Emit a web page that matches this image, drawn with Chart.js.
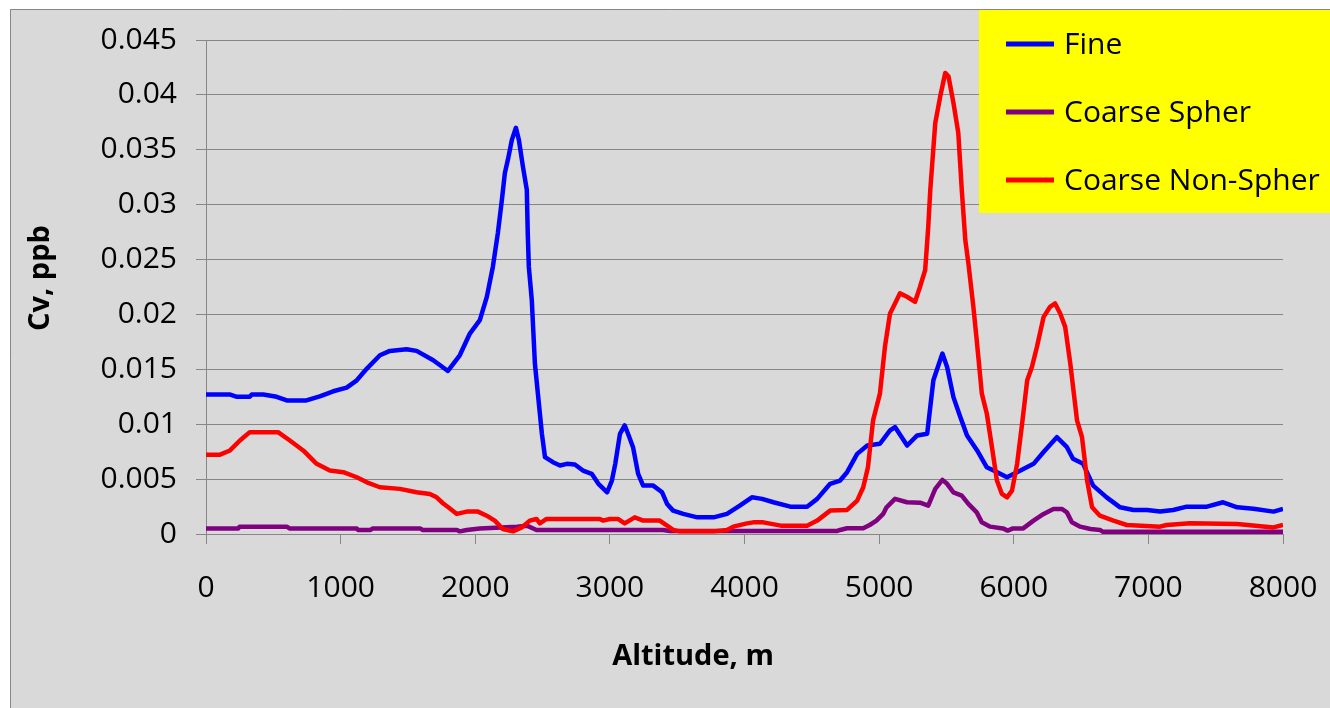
<!DOCTYPE html>
<html>
<head>
<meta charset="utf-8">
<script src="https://cdn.jsdelivr.net/npm/chart.js@4.4.0/dist/chart.umd.min.js"></script>
<style>
    html, body { margin: 0; padding: 0; background: #fff; }
    canvas { display: block; }
</style>
</head>
<body>
<canvas id="grafico" width="1330" height="708"></canvas>
<script>
// Rótulos dos eixos
const xTickLabels = ['0', '1000', '2000', '3000', '4000', '5000', '6000', '7000', '8000'];
const yTickLabels = ['0', '0.005', '0.01', '0.015', '0.02', '0.025', '0.03', '0.035', '0.04', '0.045'];
const seriesNames = ['Fine', 'Coarse Spher', 'Coarse Non-Spher'];

// Fine
const fineAlt = [0, 180, 230, 325, 340, 425, 525, 600, 746, 845, 945, 1045, 1120, 1195, 1292, 1366, 1490, 1564, 1688, 1797,
    1885, 1960, 2034, 2086, 2131, 2168, 2198, 2220, 2242, 2272, 2302, 2324, 2354, 2383, 2390, 2398, 2420, 2443, 2480, 2495,
    2518, 2577, 2630, 2680, 2740, 2800, 2865, 2915, 2980, 3015, 3040, 3075, 3110, 3135, 3172, 3210, 3247, 3322, 3388, 3425,
    3470, 3545, 3650, 3770, 3870, 3965, 4055, 4130, 4215, 4340, 4465, 4540, 4636, 4710, 4762, 4837, 4912, 5006, 5081, 5118,
    5208, 5283, 5357, 5403, 5470, 5505, 5552, 5603, 5653, 5728, 5800, 5877, 5950, 6050, 6147, 6220, 6320, 6395, 6440, 6515,
    6590, 6690, 6790, 6890, 6990, 7087, 7185, 7285, 7435, 7555, 7660, 7780, 7930, 8000];
const fineCv = [0.0127, 0.0127, 0.0125, 0.0125, 0.0127, 0.0127, 0.0125, 0.01217, 0.01217, 0.01254, 0.0130, 0.01333, 0.0140, 0.01507, 0.01628, 0.01668, 0.01683, 0.01668, 0.01583, 0.01485,
    0.01628, 0.01826, 0.01948, 0.0216, 0.02435, 0.02742, 0.03044, 0.03288, 0.03406, 0.0359, 0.0370, 0.0359, 0.03348, 0.03135, 0.0274, 0.02435, 0.0213, 0.01553, 0.01098, 0.00913,
    0.0070, 0.00654, 0.00624, 0.00639, 0.00633, 0.00578, 0.00548, 0.00457, 0.0038, 0.00487, 0.00639, 0.00913, 0.00989, 0.00913, 0.00791, 0.00548, 0.00441, 0.00441, 0.0038, 0.00274,
    0.00213, 0.00183, 0.00152, 0.00152, 0.00183, 0.00258, 0.00334, 0.0032, 0.00289, 0.00249, 0.00249, 0.0032, 0.00457, 0.00487, 0.00563, 0.0073, 0.00806, 0.00822, 0.00943, 0.00974,
    0.00806, 0.00898, 0.00913, 0.0140, 0.01644, 0.01521, 0.01247, 0.01065, 0.00898, 0.00761, 0.00608, 0.00563, 0.00517, 0.00578, 0.00639, 0.00745, 0.00882, 0.00791, 0.00685, 0.00639,
    0.00441, 0.00334, 0.00243, 0.00219, 0.00219, 0.00204, 0.00219, 0.00249, 0.00249, 0.00289, 0.00243, 0.0023, 0.00204, 0.00228];

// Coarse Spher
const spherAlt = [0, 240, 250, 600, 620, 1120, 1130, 1220, 1240, 1590, 1610, 1863, 1885, 1937, 2034, 2310, 2383, 2455, 3395, 3445,
    4690, 4710, 4762, 4882, 4930, 4980, 5030, 5055, 5081, 5118, 5207, 5304, 5365, 5417, 5470, 5505, 5552, 5614, 5663, 5725,
    5763, 5825, 5920, 5955, 5995, 6070, 6147, 6222, 6295, 6357, 6395, 6432, 6494, 6570, 6640, 6660, 8000];
const spherCv = [0.00051, 0.00051, 0.00067, 0.00067, 0.00051, 0.00051, 0.00037, 0.00037, 0.00051, 0.00051, 0.00037, 0.00037, 0.00024, 0.00037, 0.00051, 0.00067, 0.00076, 0.00037, 0.00037, 0.00028,
    0.00028, 0.00037, 0.00052, 0.00052, 0.00082, 0.00122, 0.00183, 0.00243, 0.00274, 0.0032, 0.00289, 0.00285, 0.00258, 0.00411, 0.00493, 0.00457, 0.0038, 0.0035, 0.00274, 0.00197,
    0.00106, 0.00067, 0.00051, 0.00031, 0.00051, 0.00051, 0.00122, 0.00183, 0.00228, 0.00228, 0.00197, 0.00106, 0.00067, 0.00045, 0.00037, 0.00021, 0.00021];

// Coarse Non-Spher
const nonSpherAlt = [0, 100, 178, 252, 325, 535, 623, 722, 822, 920, 1020, 1120, 1195, 1292, 1440, 1564, 1663, 1713, 1760, 1800,
    1863, 1937, 2020, 2085, 2145, 2205, 2280, 2345, 2405, 2455, 2480, 2530, 2925, 2950, 3000, 3060, 3110, 3185, 3247, 3370,
    3425, 3470, 3520, 3770, 3870, 3917, 4018, 4065, 4140, 4270, 4465, 4540, 4636, 4762, 4837, 4882, 4917, 4955, 5006, 5043,
    5081, 5118, 5155, 5207, 5267, 5304, 5342, 5365, 5380, 5417, 5454, 5491, 5515, 5552, 5588, 5614, 5640, 5663, 5700, 5725,
    5763, 5800, 5838, 5875, 5912, 5950, 5987, 6025, 6062, 6100, 6135, 6172, 6222, 6270, 6307, 6345, 6382, 6420, 6470, 6507,
    6545, 6582, 6640, 6740, 6840, 7087, 7135, 7310, 7660, 7930, 8000];
const nonSpherCv = [0.00721, 0.00721, 0.00761, 0.00852, 0.00928, 0.00928, 0.00852, 0.00761, 0.00639, 0.00578, 0.00563, 0.00517, 0.00471, 0.00426, 0.00411, 0.0038, 0.00365, 0.00334, 0.0028, 0.00243,
    0.00183, 0.00204, 0.00204, 0.00167, 0.00122, 0.00046, 0.00024, 0.0006, 0.00122, 0.00137, 0.00097, 0.00137, 0.00137, 0.00122, 0.00137, 0.00137, 0.00097, 0.00152, 0.00122, 0.00122,
    0.00076, 0.00037, 0.00024, 0.00024, 0.00037, 0.00067, 0.00097, 0.00106, 0.00106, 0.00076, 0.00076, 0.00122, 0.00213, 0.00219, 0.00304, 0.00426, 0.00608, 0.01035, 0.01279, 0.01704,
    0.02009, 0.0210, 0.02192, 0.02161, 0.02115, 0.02252, 0.02405, 0.0280, 0.03135, 0.03744, 0.03987, 0.0420, 0.0417, 0.03927, 0.03653, 0.03135, 0.02679, 0.02466, 0.0207, 0.01765,
    0.01279, 0.01096, 0.00791, 0.00487, 0.00365, 0.00334, 0.00395, 0.00639, 0.01005, 0.0140, 0.01521, 0.01704, 0.01978, 0.0207, 0.0210, 0.02009, 0.01887, 0.01553, 0.01035, 0.00882,
    0.00487, 0.00243, 0.00167, 0.00122, 0.00082, 0.00067, 0.00082, 0.00097, 0.00091, 0.0006, 0.00082];

const cores = ['#0000ff', '#800080', '#ff0000'];
const fonte = '"Open Sans", sans-serif';

const pontos = (alt, cv) => alt.map((a, i) => ({ x: a, y: cv[i] }));

// Fundo cinza com borda
const fundo = {
    id: 'fundo',
    beforeDraw(chart) {
        const ctx = chart.ctx;
        ctx.save();
        ctx.fillStyle = '#ffffff';
        ctx.fillRect(0, 0, chart.width, chart.height);
        ctx.fillStyle = '#d9d9d9';
        ctx.fillRect(10, 9, chart.width - 10, chart.height - 9);
        ctx.strokeStyle = '#868686';
        ctx.lineWidth = 1;
        ctx.beginPath();
        ctx.moveTo(10.5, chart.height);
        ctx.lineTo(10.5, 9.5);
        ctx.lineTo(chart.width, 9.5);
        ctx.stroke();
        ctx.restore();
    }
};

// Títulos dos eixos e legenda amarela
const extras = {
    id: 'extras',
    afterDraw(chart) {
        const ctx = chart.ctx;
        ctx.save();
        ctx.fillStyle = '#000';
        ctx.font = 'bold 29px ' + fonte;
        ctx.textAlign = 'center';
        ctx.textBaseline = 'middle';
        ctx.fillText('Altitude, m', 693, 657);
        ctx.translate(41, 278);
        ctx.rotate(-Math.PI / 2);
        ctx.fillText('Cv, ppb', 0, 0);
        ctx.restore();

        ctx.save();
        ctx.fillStyle = '#ffff00';
        ctx.fillRect(979, 10, chart.width - 979, 203);
        ctx.font = '30px ' + fonte;
        ctx.textAlign = 'left';
        ctx.textBaseline = 'middle';
        chart.data.datasets.forEach((ds, i) => {
            const y = 44 + i * 68;
            ctx.strokeStyle = ds.borderColor;
            ctx.lineWidth = 5;
            ctx.beginPath();
            ctx.moveTo(1006, y);
            ctx.lineTo(1054, y);
            ctx.stroke();
            ctx.fillStyle = '#000';
            ctx.fillText(ds.label, 1064, y + 1);
        });
        ctx.restore();
    }
};

const serie = (nome, alt, cv, cor, ordem) => ({
    label: nome,
    data: pontos(alt, cv),
    borderColor: cor,
    backgroundColor: cor,
    borderWidth: 4.5,
    pointRadius: 0,
    tension: 0,
    borderJoinStyle: 'round',
    order: ordem
});

new Chart(document.getElementById('grafico'), {
    type: 'line',
    data: {
        datasets: [
            serie(seriesNames[0], fineAlt, fineCv, cores[0], 2),
            serie(seriesNames[1], spherAlt, spherCv, cores[1], 1),
            serie(seriesNames[2], nonSpherAlt, nonSpherCv, cores[2], 0)
        ]
    },
    options: {
        responsive: false,
        animation: false,
        layout: { padding: { left: 0, top: 40, right: 47, bottom: 0 } },
        plugins: {
            legend: { display: false },
            tooltip: { enabled: false }
        },
        scales: {
            x: {
                type: 'linear',
                min: 0,
                max: 8000,
                afterFit: (s) => { s.height = 174; s.paddingLeft = 0; s.paddingRight = 0; },
                afterBuildTicks: (s) => { s.ticks = xTickLabels.map(v => ({ value: Number(v) })); },
                ticks: {
                    color: '#000',
                    font: { family: fonte, size: 30 },
                    padding: 26,
                    maxRotation: 0,
                    callback: (v, i) => xTickLabels[i]
                },
                grid: { drawOnChartArea: false, tickLength: 10, color: '#868686', lineWidth: 1 },
                border: { color: '#868686', width: 1 }
            },
            y: {
                min: 0,
                max: 0.045,
                afterFit: (s) => { s.width = 206; s.paddingTop = 0; s.paddingBottom = 0; },
                afterBuildTicks: (s) => { s.ticks = yTickLabels.map(v => ({ value: Number(v) })); },
                ticks: {
                    color: '#000',
                    font: { family: fonte, size: 30 },
                    padding: 19,
                    callback: (v, i) => yTickLabels[i]
                },
                grid: { tickLength: 10, color: '#868686', lineWidth: 1 },
                border: { color: '#868686', width: 1 }
            }
        }
    },
    plugins: [fundo, extras]
});
</script>
</body>
</html>
